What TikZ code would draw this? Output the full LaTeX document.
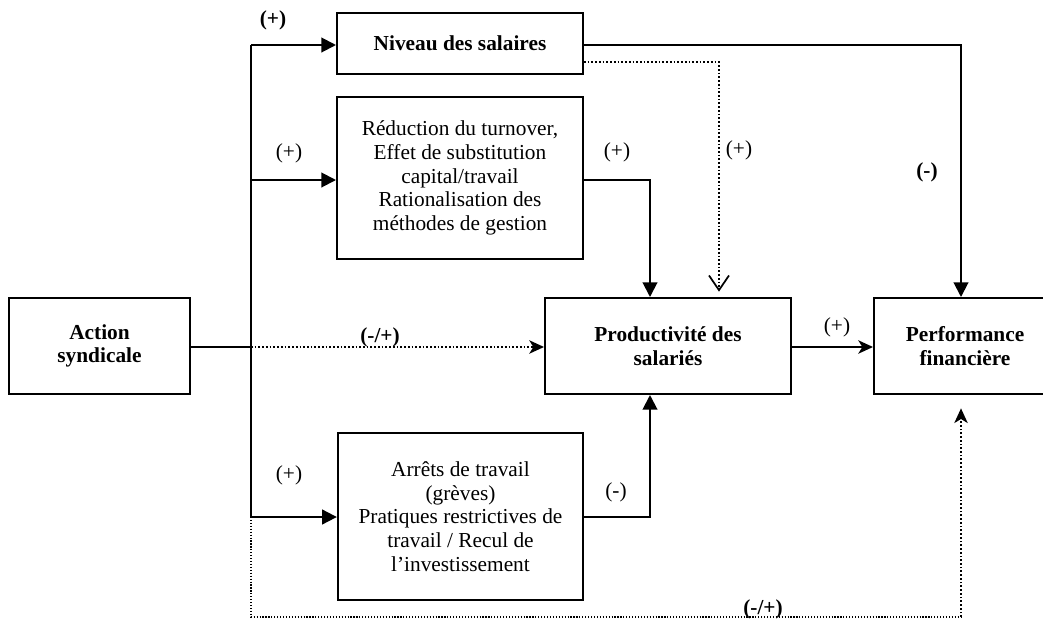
\documentclass[tikz,border=0pt]{standalone}
\usepackage{fontspec}
\setmainfont{Liberation Serif}
\usetikzlibrary{arrows.meta}
\newcommand{\sz}{\fontsize{16pt}{17.7pt}\selectfont}
\tikzset{
  box/.style={draw,line width=1.5pt,inner sep=0pt,align=center},
  link/.style={line width=1.5pt},
  dots/.style={dash pattern=on 1.3pt off 1.5pt},
  fine/.style={line width=0.9pt,dash pattern=on 0.9pt off 1.3pt},
  tri/.style={-{Triangle[length=11pt,width=11pt]}},
  stl/.style={-{Stealth[length=11pt,width=10pt,inset=3pt]}},
  vee/.style={-{Straight Barb[length=11pt,width=15pt,line width=1.3pt]}}
}
\begin{document}
\begin{tikzpicture}[x=0.75pt,y=-0.75pt,font=\sz]
\useasboundingbox (0,0) rectangle (1043,618);
\node[box,font=\sz\bfseries,minimum width=135.75pt,minimum height=72pt] (v0) at (99.5,346) {Action\\syndicale};
\node[box,font=\sz\bfseries,minimum width=184.5pt,minimum height=45.75pt] (v1) at (460,43) {Niveau des salaires};
\node[box,minimum width=184.5pt,minimum height=121.5pt] (v2) at (460,178) {Réduction du turnover,\\Effet de substitution\\capital/travail\\Rationalisation des\\méthodes de gestion};
\node[box,minimum width=184pt,minimum height=125pt] (v3) at (460.5,516.5) {Arrêts de travail\\(grèves)\\Pratiques restrictives de\\travail / Recul de\\l’investissement};
\node[box,font=\sz\bfseries,minimum width=184.5pt,minimum height=72pt] (v4) at (668,346) {Productivité des\\salariés};
\node[box,font=\sz\bfseries,minimum width=136.5pt,minimum height=72pt] (v5) at (965,346) {Performance\\financière};
\coordinate (c0) at (251,45);
\coordinate (c1) at (251,347);
\coordinate (c2) at (251,517);
\coordinate (c3) at (251,617);
\coordinate (c4) at (961,617);
\coordinate (c5) at (961,45);
\coordinate (c6) at (719,62);
\coordinate (c7) at (650,180);
\coordinate (c8) at (650,517);
\draw [link] (c0) -- (c2);
\draw [link,tri] (c0) -- (c0 -| v1.west);
\draw [link,tri] (c7 -| c0) -- (c7 -| v2.west);
\draw [link,tri] (c2) -- (c2 -| v3.west);
\draw [link] (v0.east |- c1) -- (c1);
\draw [link,dots,stl] (c1) -- (c1 -| v4.west);
\draw [link,tri] (v1.east |- c5) -- (c5) -- (c5 |- v5.north);
\draw [link,dots,vee,shorten >=4pt] (v1.east |- c6) -- (c6) -- (c6 |- v4.north);
\draw [link,tri] (v2.east |- c7) -- (c7) -- (c7 |- v4.north);
\draw [link,tri] (v3.east |- c8) -- (c8) -- (c8 |- v4.south);
\draw [link,stl] (v4.east |- c1) -- (c1 -| v5.west);
\draw [fine] (c2) -- (c3) -- (c4);
\draw [link,dots,stl,shorten >=10pt] (c4) -- (c4 |- v5.south);
\node[font=\sz\bfseries] (s0) at (273,20) {(+)};
\node (s1) at (289,153) {(+)};
\node (s2) at (289,475) {(+)};
\node[font=\sz\bfseries] (s3) at (380,337) {(-/+)};
\node (s4) at (617,152) {(+)};
\node (s5) at (739,150) {(+)};
\node[font=\sz\bfseries] (s6) at (927,172) {(-)};
\node (s7) at (837,327) {(+)};
\node (s8) at (616,492) {(-)};
\node[font=\sz\bfseries] (s9) at (763,609) {(-/+)};
\end{tikzpicture}
\end{document}
